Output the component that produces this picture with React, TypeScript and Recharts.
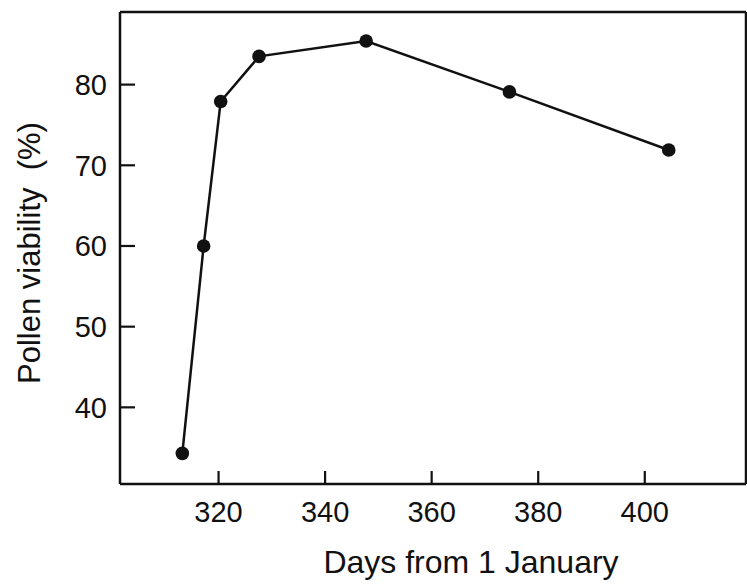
import React from 'react';
import { LineChart, Line, XAxis, YAxis, Label, ReferenceLine } from 'recharts';

// sampling day (days from 1 January) and pollen viability in %
const days = [313.2, 317.2, 320.4, 327.6, 347.7, 374.6, 404.5];
const viability = [34.3, 60.0, 77.9, 83.5, 85.4, 79.1, 71.9];

const dayTicks = [320, 340, 360, 380, 400];
const viabilityTicks = [40, 50, 60, 70, 80];

const dayDomain: [number, number] = [301.5, 419];
const viabilityDomain: [number, number] = [30.5, 89];

const chartData = days.map((day, i) => ({ day, viability: viability[i] }));

const FONT = '"Liberation Sans", Arial, Helvetica, sans-serif';
const INK = '#111';

// plot box edges, from the margins and axis sizes below
const PLOT_LEFT = 120;
const PLOT_BOTTOM = 484;

// ticks point into the plot, labels sit outside the frame
const DayTick = (props: any) => {
  const { x, payload } = props;
  return (
    <g>
      <path d={`M${x},${PLOT_BOTTOM}V${PLOT_BOTTOM - 13}`} stroke={INK} strokeWidth={2.2} fill="none" />
      <text x={x} y={PLOT_BOTTOM + 38} textAnchor="middle" fill={INK} fontSize={29} fontFamily={FONT}>
        {payload.value}
      </text>
    </g>
  );
};

const ViabilityTick = (props: any) => {
  const { y, payload } = props;
  return (
    <g>
      <path d={`M${PLOT_LEFT},${y}H${PLOT_LEFT + 15}`} stroke={INK} strokeWidth={2.2} fill="none" />
      <text x={PLOT_LEFT - 13} y={y} dy="0.36em" textAnchor="end" fill={INK} fontSize={29} fontFamily={FONT}>
        {payload.value}
      </text>
    </g>
  );
};

export default function App() {
  return (
    <div style={{ position: 'absolute', left: 0, top: 0, background: '#fff' }}>
      <LineChart
        width={747}
        height={586}
        data={chartData}
        margin={{ top: 12, right: 1, bottom: 0, left: 0 }}
      >
        <XAxis
          dataKey="day"
          type="number"
          domain={dayDomain}
          ticks={dayTicks}
          height={102}
          tickLine={false}
          axisLine={{ stroke: INK, strokeWidth: 2.5 }}
          tick={<DayTick />}
        >
          <Label
            value="Days from 1 January"
            position="center"
            dx={38}
            dy={27}
            style={{ fill: INK, fontSize: 32, fontFamily: FONT }}
          />
        </XAxis>
        <YAxis
          type="number"
          domain={viabilityDomain}
          ticks={viabilityTicks}
          width={PLOT_LEFT}
          tickLine={false}
          axisLine={{ stroke: INK, strokeWidth: 2.5 }}
          tick={<ViabilityTick />}
        >
          <Label
            value={'Pollen viability\u00a0 (%)'}
            angle={-90}
            position="center"
            dx={-31}
            dy={5}
            style={{ fill: INK, fontSize: 31, fontFamily: FONT }}
          />
        </YAxis>
        {/* top and right sides of the frame */}
        <ReferenceLine y={viabilityDomain[1]} stroke={INK} strokeWidth={2.5} ifOverflow="visible" />
        <ReferenceLine x={dayDomain[1]} stroke={INK} strokeWidth={2.5} ifOverflow="visible" />
        <Line
          dataKey="viability"
          type="linear"
          stroke={INK}
          strokeWidth={2.5}
          dot={{ r: 6.8, fill: INK, stroke: INK, strokeWidth: 0 }}
          activeDot={false}
          isAnimationActive={false}
        />
      </LineChart>
    </div>
  );
}
